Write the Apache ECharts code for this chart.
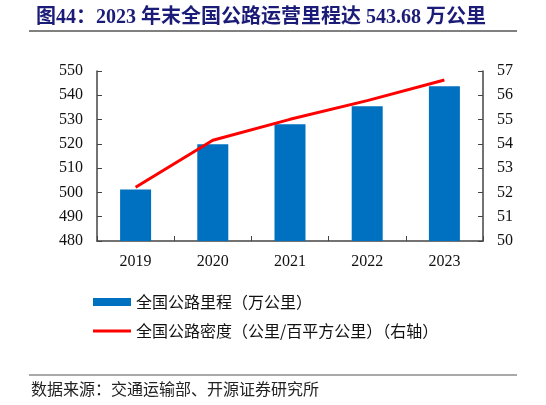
<!DOCTYPE html>
<html>
<head>
<meta charset="utf-8">
<script src="https://cdn.jsdelivr.net/npm/echarts@6/dist/echarts.min.js"></script>
<style>
html,body{margin:0;padding:0;background:#fff;}
#main{width:546px;height:405px;}
</style>
</head>
<body>
<div id="main"></div>
<script>
// 年份
var years = ['2019', '2020', '2021', '2022', '2023'];
// 全国公路里程（万公里）
var mileage = [501.25, 519.81, 528.07, 535.48, 543.68];
// 全国公路密度（公里/百平方公里）
var density = [52.21, 54.15, 55.01, 55.78, 56.63];

var serif = '"Liberation Serif", "Times New Roman", "Noto Sans CJK SC", serif';
var cjk = '"Noto Sans CJK SC", sans-serif';

var chart = echarts.init(document.getElementById('main'));

var option = {
    backgroundColor: '#fff',
    animation: false,
    title: {
        text: '图44：2023 年末全国公路运营里程达 543.68 万公里',
        left: 31,
        top: 3,
        textStyle: {
            color: '#1b1b78',
            fontSize: 20,
            fontWeight: 'bold',
            fontFamily: serif
        }
    },
    graphic: [
        // 标题下横线
        {type: 'line', shape: {x1: 29, y1: 31, x2: 517, y2: 31}, style: {stroke: '#808080', lineWidth: 2}},
        // 底部横线
        {type: 'line', shape: {x1: 29, y1: 375, x2: 517, y2: 375}, style: {stroke: '#555', lineWidth: 1}},
        {type: 'text', left: 31, top: 381, style: {text: '数据来源：交通运输部、开源证券研究所', fill: '#222', font: '16px ' + cjk}}
    ],
    legend: {
        orient: 'vertical',
        left: 88,
        top: 289,
        itemGap: 13,
        itemWidth: 38,
        itemHeight: 8,
        textStyle: {color: '#111', fontSize: 16, fontFamily: cjk},
        data: [
            {name: '全国公路里程（万公里）', icon: 'rect'},
            {name: '全国公路密度（公里/百平方公里）（右轴）', icon: 'path://M0,0 L40,0 L40,3 L0,3 Z'}
        ]
    },
    grid: {left: 97, right: 63, top: 71, bottom: 164},
    xAxis: {
        type: 'category',
        data: years,
        axisLine: {lineStyle: {color: '#444', width: 1.5}},
        axisTick: {show: true, inside: true, length: 5, lineStyle: {color: '#444'}},
        axisLabel: {color: '#111', fontSize: 16, fontFamily: serif, margin: 13}
    },
    yAxis: [
        {
            type: 'value',
            min: 480,
            max: 550,
            interval: 10,
            splitLine: {show: false},
            axisLine: {show: true, lineStyle: {color: '#444', width: 1.5}},
            axisTick: {show: true, inside: true, length: 5, lineStyle: {color: '#444'}},
            axisLabel: {color: '#111', fontSize: 16, fontFamily: serif, margin: 14}
        },
        {
            type: 'value',
            min: 50,
            max: 57,
            interval: 1,
            splitLine: {show: false},
            axisLine: {show: true, lineStyle: {color: '#444', width: 1.5}},
            axisTick: {show: true, inside: true, length: 5, lineStyle: {color: '#444'}},
            axisLabel: {color: '#111', fontSize: 16, fontFamily: serif, margin: 14}
        }
    ],
    series: [
        {
            name: '全国公路里程（万公里）',
            type: 'bar',
            data: mileage,
            barWidth: 31,
            itemStyle: {color: '#0070C0'}
        },
        {
            name: '全国公路密度（公里/百平方公里）（右轴）',
            type: 'line',
            yAxisIndex: 1,
            data: density,
            symbol: 'none',
            lineStyle: {color: '#FF0000', width: 3},
            itemStyle: {color: '#FF0000'}
        }
    ]
};
chart.setOption(option);
</script>
</body>
</html>
